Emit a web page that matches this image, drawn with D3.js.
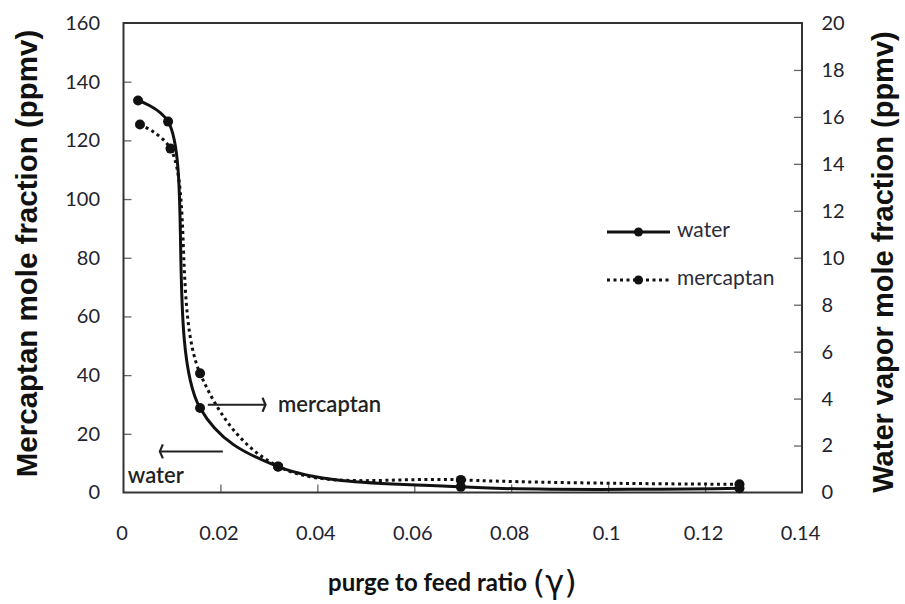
<!DOCTYPE html>
<html>
<head>
<meta charset="utf-8">
<script src="https://cdn.jsdelivr.net/npm/d3@7"></script>
<style>
  html, body { margin: 0; padding: 0; background: #fff; }
  svg { display: block; }
  .tick text { font-family: Lato, "Open Sans", sans-serif; font-size: 20px; fill: #23232f; }
  .tick line { stroke: #666; stroke-width: 1.3; }
</style>
</head>
<body>
<svg id="chart" width="905" height="604"></svg>
<script>
// purge-to-feed ratio (γ) for each run
const waterX     = [0.0030, 0.0092, 0.0158, 0.0319, 0.0696, 0.1271];
const mercaptanX = [0.0034, 0.0097, 0.0158, 0.0319, 0.0696, 0.1271];
// outlet water vapour, ppmv (right axis)
const waterY     = [16.7, 15.8, 3.6, 1.1, 0.24, 0.18];
// outlet mercaptan, ppmv (left axis)
const mercaptanY = [125.4, 117.2, 40.6, 8.9, 4.3, 2.8];

const xTicks     = [0, 0.02, 0.04, 0.06, 0.08, 0.1, 0.12, 0.14];
const leftTicks  = [0, 20, 40, 60, 80, 100, 120, 140, 160];
const rightTicks = [0, 2, 4, 6, 8, 10, 12, 14, 16, 18, 20];

// annotation arrows: [x from, x to, left-axis value]
const mercaptanArrow = [0.0174, 0.0293, 29.9];
const waterArrow     = [0.0205, 0.0075, 14.0];

const svg = d3.select("#chart");
const plot = { left: 123.5, right: 802, top: 23, bottom: 492.5 };

const x  = d3.scaleLinear().domain([0, 0.14]).range([plot.left, plot.right]);
const yL = d3.scaleLinear().domain([0, 160]).range([plot.bottom, plot.top]);
const yR = d3.scaleLinear().domain([0, 20]).range([plot.bottom, plot.top]);

// axes with inward ticks
const gx = svg.append("g").attr("transform", `translate(0,${plot.bottom})`)
  .call(d3.axisBottom(x).tickValues(xTicks).tickSize(-8).tickSizeOuter(0).tickPadding(33)
        .tickFormat(d => String(+d.toFixed(2))));
gx.selectAll(".tick text").attr("dx", -2);

const gl = svg.append("g").attr("transform", `translate(${plot.left},0)`)
  .call(d3.axisLeft(yL).tickValues(leftTicks).tickSize(-8).tickSizeOuter(0).tickPadding(23.5));

const gr = svg.append("g").attr("transform", `translate(${plot.right},0)`)
  .call(d3.axisRight(yR).tickValues(rightTicks).tickSize(-8).tickSizeOuter(0).tickPadding(19.5));

[gx, gl, gr].forEach(g => g.select(".domain").remove());
// hide the ticks that sit on the frame corners
gx.selectAll(".tick").filter(d => d === 0 || d === 0.14).select("line").remove();
gl.selectAll(".tick").filter(d => d === 0 || d === 160).select("line").remove();
gr.selectAll(".tick").filter(d => d === 0 || d === 20).select("line").remove();

// plot frame
svg.append("rect")
  .attr("x", plot.left).attr("y", plot.top)
  .attr("width", plot.right - plot.left).attr("height", plot.bottom - plot.top)
  .attr("fill", "none").attr("stroke", "#333").attr("stroke-width", 2);

const curve = d3.curveCatmullRom.alpha(0.5);

const waterPts = waterX.map((v, i) => [x(v), yR(waterY[i])]);
const mercPts  = mercaptanX.map((v, i) => [x(v), yL(mercaptanY[i])]);

svg.append("path")
  .attr("d", d3.line().curve(curve)(mercPts))
  .attr("fill", "none").attr("stroke", "#111").attr("stroke-width", 3)
  .attr("stroke-dasharray", "3,3.5");

svg.append("path")
  .attr("d", d3.line().curve(curve)(waterPts))
  .attr("fill", "none").attr("stroke", "#111").attr("stroke-width", 3);

svg.append("g").selectAll("circle").data(mercPts).join("circle")
  .attr("cx", d => d[0]).attr("cy", d => d[1]).attr("r", 5).attr("fill", "#111");
svg.append("g").selectAll("circle").data(waterPts).join("circle")
  .attr("cx", d => d[0]).attr("cy", d => d[1]).attr("r", 5).attr("fill", "#111");

// annotation arrows with narrow open heads
function arrow(a) {
  const x0 = x(a[0]), x1 = x(a[1]), yy = yL(a[2]);
  const dir = Math.sign(x1 - x0);
  svg.append("line").attr("x1", x0).attr("x2", x1).attr("y1", yy).attr("y2", yy)
    .attr("stroke", "#222").attr("stroke-width", 2);
  svg.append("path")
    .attr("d", `M${x1 - dir * 3},${yy - 7} L${x1},${yy} L${x1 - dir * 3},${yy + 7}`)
    .attr("fill", "none").attr("stroke", "#222").attr("stroke-width", 2.2);
}
arrow(mercaptanArrow);
arrow(waterArrow);

const labelFont = "Lato, 'Open Sans', sans-serif";
svg.append("text").attr("x", x(0.0319)).attr("y", yL(27.6))
  .attr("font-family", labelFont).attr("font-size", 22).attr("font-weight", 600)
  .attr("fill", "#222").text("mercaptan");
svg.append("text").attr("x", x(0.0009)).attr("y", yL(3.3))
  .attr("font-family", labelFont).attr("font-size", 22).attr("font-weight", 600)
  .attr("fill", "#222").text("water");

// legend
const legend = svg.append("g").attr("transform", "translate(607,0)");
const legendRows = [
  { name: "water", y: 232, dash: null },
  { name: "mercaptan", y: 280, dash: "3,3.5" }
];
legendRows.forEach(r => {
  legend.append("line").attr("x1", 0).attr("x2", 63).attr("y1", r.y).attr("y2", r.y)
    .attr("stroke", "#111").attr("stroke-width", 3)
    .attr("stroke-dasharray", r.dash);
  legend.append("circle").attr("cx", 31.5).attr("cy", r.y).attr("r", 4.5).attr("fill", "#111");
  legend.append("text").attr("x", 70).attr("y", r.y + 5)
    .attr("font-family", labelFont).attr("font-size", 21).attr("fill", "#2b2b3a")
    .text(r.name);
});

// axis titles
const titleFont = "'Liberation Sans', Arial, sans-serif";
svg.append("text")
  .attr("transform", "translate(37,253.5) rotate(-90)")
  .attr("text-anchor", "middle").attr("font-family", titleFont)
  .attr("font-size", 29.5).attr("font-weight", "bold").attr("fill", "#111")
  .text("Mercaptan mole fraction (ppmv)");

svg.append("text")
  .attr("transform", "translate(893,262) rotate(-90)")
  .attr("text-anchor", "middle").attr("font-family", titleFont)
  .attr("font-size", 29).attr("font-weight", "bold").attr("fill", "#111")
  .text("Water vapor mole fraction (ppmv)");

const xt = svg.append("text").attr("x", 328).attr("y", 591)
  .attr("font-family", labelFont).attr("font-size", 24).attr("font-weight", "bold").attr("fill", "#111");
xt.append("tspan").text("purge to feed ratio ");
xt.append("tspan").attr("font-family", "'DejaVu Sans', sans-serif").attr("font-weight", "normal")
  .attr("font-size", 32).attr("dy", 2).text("(γ)");
</script>
</body>
</html>
